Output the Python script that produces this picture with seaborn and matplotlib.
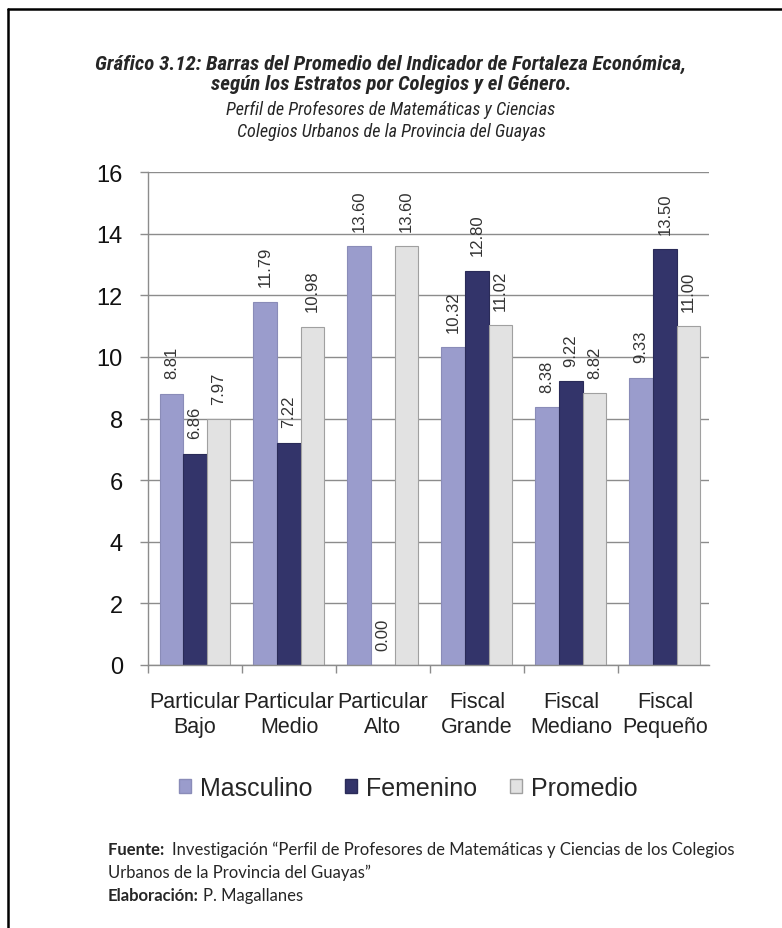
import matplotlib
matplotlib.use("Agg")
import matplotlib.pyplot as plt
from matplotlib import font_manager
from matplotlib.lines import Line2D
from matplotlib.patches import Patch
import seaborn as sns
import pandas as pd
import numpy as np

categories = ["Particular\nBajo", "Particular\nMedio", "Particular\nAlto",
              "Fiscal\nGrande", "Fiscal\nMediano", "Fiscal\nPequeño"]
masculino = [8.81, 11.79, 13.60, 10.32, 8.38, 9.33]
femenino = [6.86, 7.22, 0.00, 12.80, 9.22, 13.50]
promedio = [7.97, 10.98, 13.60, 11.02, 8.82, 11.00]
series = ["Masculino", "Femenino", "Promedio"]
colors = ["#9a9ccc", "#33346a", "#e2e2e2"]
edges = ["#8a8cb8", "#2a2b58", "#a0a0a0"]
yticks = [0, 2, 4, 6, 8, 10, 12, 14, 16]

df = pd.DataFrame({
    "cat": categories * 3,
    "serie": [s for s in series for _ in categories],
    "val": masculino + femenino + promedio,
})

sns.set_theme(style="white")
names = {f.name for f in font_manager.fontManager.ttflist}
narrow = "Liberation Sans"
for cand in ["Liberation Sans Narrow", "Roboto Condensed", "Open Sans Condensed",
             "Noto Sans Condensed", "DejaVu Sans Condensed"]:
    if cand in names:
        narrow = cand
        break
plt.rcParams["font.family"] = ["Liberation Sans", "DejaVu Sans"]

W, H = 782, 929
fig = plt.figure(figsize=(W / 100, H / 100), dpi=100)
ax = fig.add_axes([148 / W, 1 - 666 / H, (709 - 148) / W, (666 - 173) / H])

sns.barplot(data=df, x="cat", y="val", hue="serie", order=categories,
            hue_order=series, palette=colors, width=0.755, gap=0,
            saturation=1, ax=ax, legend=False)

for i, cont in enumerate(ax.containers):
    for bar in cont:
        bar.set_edgecolor(edges[i])
        bar.set_linewidth(0.8)
    ax.bar_label(cont, fmt="%.2f", rotation=90, padding=11, fontsize=12,
                 color="#333333")

ax.set_ylim(0, 16)
ax.set_xlim(-0.5, 5.47)
ax.set_yticks(yticks)
ax.set_yticklabels([str(t) for t in yticks], fontsize=17, color="#111111")
ax.yaxis.grid(True, color="#8c8c8c", linewidth=1)
ax.set_axisbelow(True)
ax.tick_params(axis="y", length=6, color="#8c8c8c", width=1, pad=12, left=True)
ax.set_xticks(range(len(categories)))
ax.set_xticklabels(categories, fontsize=15.5, color="#222222", linespacing=1.22)
ax.tick_params(axis="x", which="major", length=0, pad=19)
ax.set_xticks(np.arange(-0.5, 5.0, 1.0), minor=True)
ax.tick_params(axis="x", which="minor", length=6, color="#8c8c8c", width=1,
               bottom=True)
ax.set_xlabel("")
ax.set_ylabel("")
for s in ["top", "right"]:
    ax.spines[s].set_visible(False)
for s in ["left", "bottom"]:
    ax.spines[s].set_color("#8c8c8c")
    ax.spines[s].set_linewidth(1)

handles = [Patch(facecolor=c, edgecolor=e) for c, e in zip(colors, edges)]
fig.legend(handles, series, loc="center", bbox_to_anchor=(408 / W, 1 - 789 / H),
           ncol=3, frameon=False, fontsize=18, handlelength=0.5,
           handleheight=0.5, handletextpad=0.35, columnspacing=1.3)

fig.canvas.draw()
renderer = fig.canvas.get_renderer()


def fitted(x, y, s, width_px, base, **kw):
    t = fig.text(x, y, s, fontsize=base, ha="center", va="center", **kw)
    w = t.get_window_extent(renderer).width
    t.set_fontsize(base * width_px / w)
    return t


title_kw = dict(fontweight="bold", fontstyle="italic", family=narrow)
t1 = fitted(0.5, 1 - 64 / H,
            "Gráfico 3.12: Barras del Promedio del Indicador de Fortaleza Económica,",
            590, 16, **title_kw)
fig.text(0.5, 1 - 85 / H, "según los Estratos por Colegios y el Género.",
         ha="center", va="center", fontsize=t1.get_fontsize(), **title_kw)
sub_kw = dict(fontstyle="italic", family=narrow)
s1 = fitted(0.5, 1 - 110 / H, "Perfil de Profesores de Matemáticas y Ciencias",
            328, 13, **sub_kw)
fig.text(0.5, 1 - 132 / H, "Colegios Urbanos de la Provincia del Guayas",
         ha="center", va="center", fontsize=s1.get_fontsize(), **sub_kw)

foot = ["Lato", "DejaVu Sans"]
fy = [850, 873, 896]
a = fig.text(108 / W, 1 - fy[0] / H, "Fuente: ", ha="left", va="center",
             fontsize=12, fontweight="bold", family=foot)
fig.canvas.draw()
x1 = fig.transFigure.inverted().transform(
    (a.get_window_extent(renderer).x1 + 4, 0))[0]
fig.text(x1, 1 - fy[0] / H,
         "Investigación “Perfil de Profesores de Matemáticas y Ciencias de los Colegios",
         ha="left", va="center", fontsize=12, family=foot)
fig.text(108 / W, 1 - fy[1] / H, "Urbanos de la Provincia del Guayas”",
         ha="left", va="center", fontsize=12, family=foot)
b = fig.text(108 / W, 1 - fy[2] / H, "Elaboración:", ha="left", va="center",
             fontsize=12, fontweight="bold", family=foot)
fig.canvas.draw()
x2 = fig.transFigure.inverted().transform(
    (b.get_window_extent(renderer).x1 + 4, 0))[0]
fig.text(x2, 1 - fy[2] / H, "P. Magallanes", ha="left", va="center",
         fontsize=12, family=foot)

fig.add_artist(Line2D([8 / W, 1.0], [1 - 10 / H, 1 - 10 / H],
                      transform=fig.transFigure, color="black", linewidth=1.8))
fig.add_artist(Line2D([8 / W, 8 / W], [1 - 10 / H, 0.0],
                      transform=fig.transFigure, color="black", linewidth=1.8))

fig.savefig("out.png", dpi=100, facecolor="white")
